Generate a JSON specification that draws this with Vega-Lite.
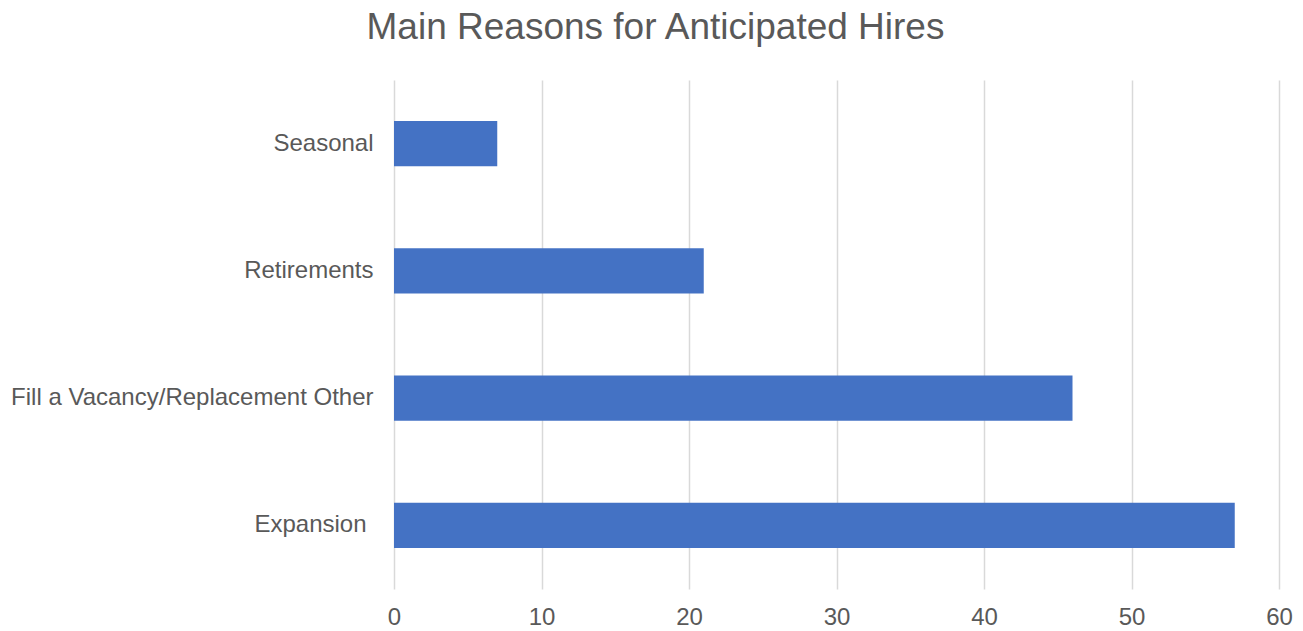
{
  "$schema": "https://vega.github.io/schema/vega-lite/v6.json",
  "autosize": "none",
  "width": 885,
  "height": 509,
  "padding": {"left": 394, "top": 80, "right": 24, "bottom": 42},
  "background": "white",
  "title": {
    "text": "Main Reasons for Anticipated Hires",
    "font": "Liberation Sans",
    "fontSize": 37,
    "fontWeight": "normal",
    "color": "#595959",
    "anchor": "middle",
    "frame": "bounds",
    "offset": 33,
    "dx": 4
  },
  "data": {
    "values": [
      {"reason": "Seasonal", "count": 7},
      {"reason": "Retirements", "count": 21},
      {"reason": "Fill a Vacancy/Replacement Other", "count": 46},
      {"reason": "Expansion", "count": 57}
    ]
  },
  "mark": {"type": "bar", "color": "#4472C4"},
  "encoding": {
    "y": {
      "field": "reason",
      "type": "nominal",
      "sort": null,
      "scale": {"paddingInner": 0.646, "paddingOuter": 0.323},
      "axis": {
        "title": null,
        "domain": false,
        "ticks": false,
        "labelPadding": {"condition": {"test": "datum.value == 'Expansion'", "value": 28}, "value": 21},
        "labelFont": "Liberation Sans",
        "labelFontSize": 24,
        "labelColor": "#595959",
        "labelLimit": 500
      }
    },
    "x": {
      "field": "count",
      "type": "quantitative",
      "scale": {"domain": [0, 60], "nice": false},
      "axis": {
        "title": null,
        "values": [0, 10, 20, 30, 40, 50, 60],
        "domain": false,
        "ticks": false,
        "grid": true,
        "gridColor": "#d9d9d9",
        "gridWidth": 1.5,
        "labelPadding": 16,
        "labelFlush": false,
        "labelFont": "Liberation Sans",
        "labelFontSize": 24,
        "labelColor": "#595959"
      }
    }
  },
  "config": {"view": {"stroke": null}}
}
